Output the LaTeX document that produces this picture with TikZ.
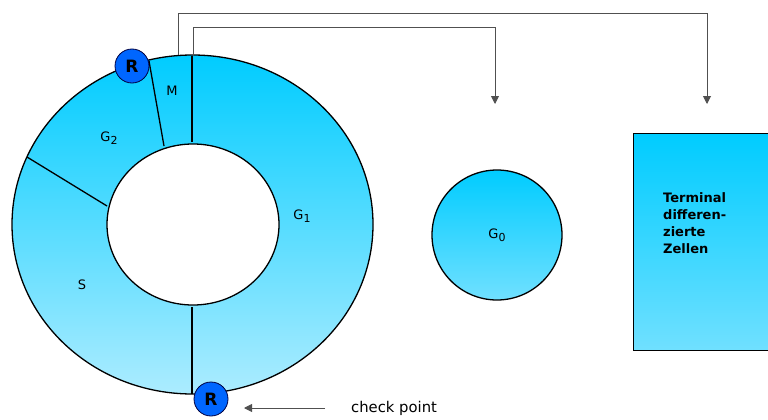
\documentclass[tikz,border=0pt]{standalone}
\usepackage{fontspec}
\setmainfont{DejaVu Sans}
\usetikzlibrary{arrows.meta}
\definecolor{cyanTop}{RGB}{0,204,255}
\definecolor{ringBot}{RGB}{172,236,255}
\definecolor{boxBot}{RGB}{112,224,255}
\definecolor{rblue}{RGB}{0,102,255}
\definecolor{conn}{RGB}{80,80,80}
\newcommand{\mysub}[1]{\raisebox{-0.45ex}{\fontsize{11}{11}\selectfont #1}}
\begin{document}
\begin{tikzpicture}[x=1pt,y=-1pt,
  outline/.style={draw=black,line width=1.3pt},
  rnode/.style={circle,fill=rblue,draw=black!75!blue,line width=0.8pt,minimum size=34pt,inner sep=0pt,font=\bfseries\fontsize{17}{17}\selectfont},
  lbl/.style={font=\fontsize{13}{13}\selectfont,inner sep=0pt},
  connector/.style={draw=conn,line width=0.9pt},
  tip/.style={-{Triangle[length=8pt,width=8pt]}}
]
\useasboundingbox (0,0) rectangle (768,420);

% ring
\shade[top color=cyanTop,bottom color=ringBot] (192.5,224.5) ellipse [x radius=180.5pt,y radius=169.5pt];
\fill[white] (193,224.5) ellipse [x radius=86pt,y radius=80.5pt];
\draw[outline] (192.5,224.5) ellipse [x radius=180.5pt,y radius=169.5pt];
\draw[outline] (193,224.5) ellipse [x radius=86pt,y radius=80.5pt];
\draw[outline] (192,56) -- (192,142);
\draw[outline] (192,307) -- (192,394);
\draw[outline] (149,61) -- (164,146);
\draw[outline] (27,157) -- (107,206);

\node[lbl] (m) at (172,91) {M};
\node[lbl] (g2) at (109,138) {G\mysub{2}};
\node[lbl] (g1) at (302,216) {G\mysub{1}};
\node[lbl] (s) at (82,285) {S};

\node[rnode] (r1) at (132,66) {R};
\node[rnode] (r2) at (211,399) {R};

% G0
\node[circle,minimum size=130pt,inner sep=0pt,draw=black,line width=1.3pt,
  top color=cyanTop,bottom color=boxBot,font=\fontsize{13}{13}\selectfont] (g0) at (497,235) {G\mysub{0}};

% terminal box
\node[rectangle,draw=black,line width=1.3pt,anchor=north west,minimum width=142pt,minimum height=217pt,
  top color=cyanTop,bottom color=boxBot,inner sep=0pt] (term) at (633,133) {};
\node[anchor=north west,align=left,inner sep=0pt,font=\bfseries\fontsize{13}{17}\selectfont] (ttxt) at (663,192)
  {Terminal\\differen-\\zierte\\Zellen};

% connectors
\coordinate (ringA) at (178,55);
\coordinate (ringB) at (193,56);
\coordinate (endG) at (495,104);
\coordinate (endT) at (707,104);
\draw[connector,tip] (ringA) -- ++(0,-42) -| (endT);
\draw[connector,tip] (ringB) -- ++(0,-29) -| (endG);

\coordinate (cp) at (325,408);
\coordinate (cpend) at (244,408);
\draw[connector,tip] (cp) -- (cpend);
\node[anchor=west,inner sep=0pt,font=\fontsize{14.8}{14.8}\selectfont] (cptxt) at (351,408) {check point};
\end{tikzpicture}
\end{document}
